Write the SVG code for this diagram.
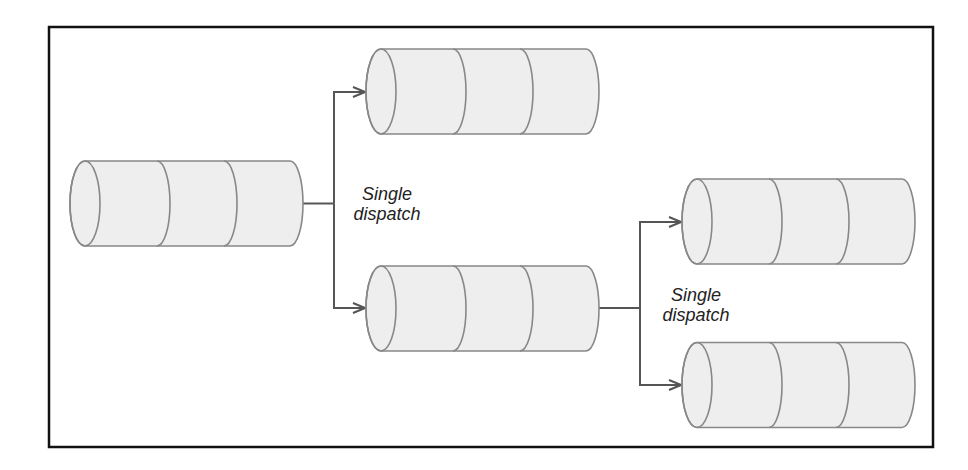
<svg xmlns="http://www.w3.org/2000/svg" xmlns:xlink="http://www.w3.org/1999/xlink" width="968" height="470" viewBox="0 0 968 470">
<style>
.body{fill:#eeeeee;stroke:#888888;stroke-width:1.6}
.sep{fill:none;stroke:#888888;stroke-width:1.6}
.conn{fill:none;stroke:#555555;stroke-width:2}
.lbl{font-family:"Liberation Sans",Arial,sans-serif;font-style:italic;font-size:18px;fill:#222222;text-anchor:middle}
</style>
<defs>
<g id="cyl">
<path class="body" d="M15,0 L220,0 A13,42.5 0 0 1 220,85 L15,85 A15,42.5 0 0 1 15,0 Z"/>
<ellipse class="sep" cx="15" cy="42.5" rx="15" ry="42.5"/>
<path class="sep" d="M87,0 A13,42.5 0 0 1 87,85 M154,0 A13,42.5 0 0 1 154,85"/>
</g>
<marker id="arr" markerUnits="userSpaceOnUse" viewBox="0 0 14 12" markerWidth="14" markerHeight="12" refX="13" refY="6" orient="auto">
<path d="M1,1 L13,6 L1,11" fill="none" stroke="#555555" stroke-width="2"/>
</marker>
</defs>
<rect x="49" y="27" width="884" height="420" fill="#ffffff" stroke="#111111" stroke-width="2.5"/>
<g id="connectors">
<path class="conn" d="M303,203.5 H334"/>
<path class="conn" d="M334,203.5 V92 H365" marker-end="url(#arr)"/>
<path class="conn" d="M334,203.5 V308 H365" marker-end="url(#arr)"/>
<path class="conn" d="M599,308 H640"/>
<path class="conn" d="M640,308 V222 H681" marker-end="url(#arr)"/>
<path class="conn" d="M640,308 V385 H681" marker-end="url(#arr)"/>
</g>
<g id="queue-source"><use xlink:href="#cyl" x="70" y="161"/></g>
<g id="queue-top"><use xlink:href="#cyl" x="366" y="49"/></g>
<g id="queue-middle"><use xlink:href="#cyl" x="366" y="266"/></g>
<g id="queue-right-top"><use xlink:href="#cyl" x="682" y="179"/></g>
<g id="queue-right-bottom"><use xlink:href="#cyl" x="682" y="342.5"/></g>
<g id="label-1"><text class="lbl" x="387" y="200">Single</text><text class="lbl" x="387" y="220">dispatch</text></g>
<g id="label-2"><text class="lbl" x="696" y="301">Single</text><text class="lbl" x="696" y="321">dispatch</text></g>
</svg>
